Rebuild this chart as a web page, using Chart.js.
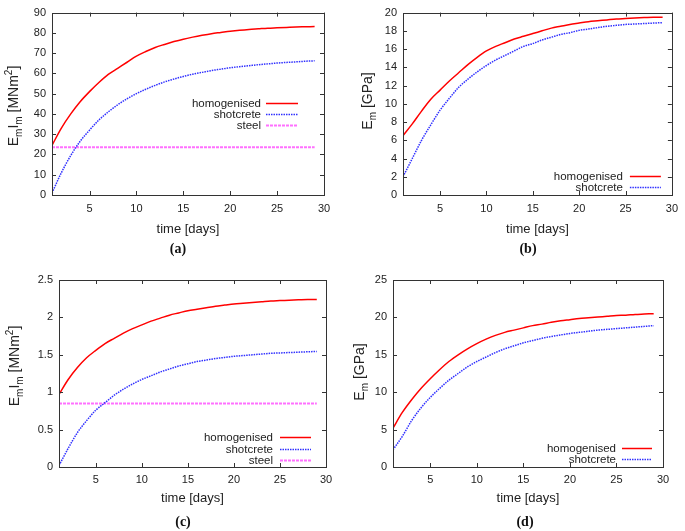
<!DOCTYPE html>
<html>
<head>
<meta charset="utf-8">
<script src="https://cdn.jsdelivr.net/npm/chart.js@4.4.1/dist/chart.umd.min.js"></script>
<style>
  body { margin: 0; background: #fff; width: 685px; height: 531px; position: relative; overflow: hidden; font-family: "Liberation Sans", Arial, sans-serif; }
  canvas { position: absolute; }
  .ytitle { position: absolute; transform: translate(-50%, -50%) rotate(-90deg); white-space: nowrap; font-size: 14px; color: #222; line-height: 1; }
  .ytitle sub, .ytitle sup { font-size: 10px; }
  .tag { position: absolute; transform: translate(-50%, -50%); font-family: "Liberation Serif", serif; font-weight: bold; font-size: 14px; color: #111; }
</style>
</head>
<body>
<canvas id="chartA" width="340" height="265" style="left:0;top:0"></canvas>
<canvas id="chartB" width="345" height="265" style="left:340px;top:0"></canvas>
<canvas id="chartC" width="340" height="266" style="left:0;top:265px"></canvas>
<canvas id="chartD" width="345" height="266" style="left:340px;top:265px"></canvas>

<div class="ytitle" style="left:14px;top:106px">E<sub>m</sub>I<sub>m</sub> [MNm<sup>2</sup>]</div>
<div class="ytitle" style="left:369px;top:101px">E<sub>m</sub> [GPa]</div>
<div class="ytitle" style="left:15px;top:366px">E<sub>m</sub>I<sub>m</sub> [MNm<sup>2</sup>]</div>
<div class="ytitle" style="left:361px;top:372px">E<sub>m</sub> [GPa]</div>

<div class="tag" style="left:178px;top:249px">(a)</div>
<div class="tag" style="left:528px;top:249px">(b)</div>
<div class="tag" style="left:183px;top:522px">(c)</div>
<div class="tag" style="left:525px;top:522px">(d)</div>

<script>
// time axis (days)
const days = [1, 2, 3, 4, 5, 6, 7, 8, 9, 10, 11, 12, 13, 14, 15, 16, 17, 18, 19, 20, 21, 22, 23, 24, 25, 26, 27, 28, 29];
const xTicks = [5, 10, 15, 20, 25, 30];

// (a) bending stiffness
const homogA = [24.5, 33, 40, 46, 51, 55.5, 59.5, 62.5, 65.5, 68.5, 70.8, 72.8, 74.3, 75.7, 76.9, 77.9, 78.8, 79.6, 80.2, 80.8, 81.3, 81.7, 82.0, 82.3, 82.5, 82.7, 82.9, 83.0, 83.1];
const shotA = [1, 11, 19.5, 26.5, 32, 37, 41, 44.5, 47.5, 50, 52.2, 54.1, 55.8, 57.2, 58.5, 59.6, 60.5, 61.4, 62.1, 62.8, 63.3, 63.8, 64.3, 64.7, 65.1, 65.4, 65.7, 66.0, 66.2];
const steelA = 23.5;
const yTicksA = [0, 10, 20, 30, 40, 50, 60, 70, 80, 90];

// (b) Young's modulus
const homogB = [6.5, 7.8, 9.2, 10.5, 11.5, 12.5, 13.4, 14.3, 15.1, 15.8, 16.3, 16.7, 17.1, 17.4, 17.7, 18.0, 18.3, 18.5, 18.7, 18.85, 19.0, 19.1, 19.2, 19.3, 19.35, 19.4, 19.45, 19.5, 19.5];
const shotB = [2.0, 4.0, 6.0, 7.7, 9.3, 10.6, 11.8, 12.7, 13.5, 14.2, 14.8, 15.3, 15.8, 16.3, 16.6, 17.0, 17.3, 17.6, 17.8, 18.05, 18.2, 18.35, 18.5, 18.6, 18.7, 18.75, 18.8, 18.85, 18.9];
const yTicksB = [0, 2, 4, 6, 8, 10, 12, 14, 16, 18, 20];

// (c) bending stiffness
const homogC = [0.97, 1.17, 1.33, 1.46, 1.56, 1.65, 1.72, 1.79, 1.85, 1.9, 1.95, 1.99, 2.03, 2.06, 2.09, 2.11, 2.13, 2.15, 2.165, 2.18, 2.19, 2.2, 2.21, 2.22, 2.225, 2.23, 2.235, 2.24, 2.24];
const shotC = [0.02, 0.25, 0.46, 0.62, 0.76, 0.86, 0.96, 1.04, 1.11, 1.17, 1.22, 1.27, 1.31, 1.35, 1.38, 1.41, 1.43, 1.45, 1.465, 1.48, 1.49, 1.5, 1.51, 1.52, 1.525, 1.53, 1.535, 1.54, 1.545];
const steelC = 0.85;
const yTicksC = [0, 0.5, 1, 1.5, 2, 2.5];

// (d) Young's modulus
const homogD = [5.2, 7.3, 9.0, 10.5, 11.8, 13.0, 14.1, 15.0, 15.8, 16.5, 17.1, 17.6, 18.0, 18.3, 18.6, 18.9, 19.1, 19.35, 19.55, 19.7, 19.85, 19.95, 20.05, 20.15, 20.25, 20.3, 20.4, 20.45, 20.5];
const shotD = [2.3, 4.1, 6.2, 7.9, 9.3, 10.5, 11.6, 12.5, 13.4, 14.1, 14.7, 15.3, 15.8, 16.2, 16.6, 16.9, 17.2, 17.45, 17.65, 17.85, 18.0, 18.15, 18.3, 18.4, 18.5, 18.6, 18.7, 18.8, 18.9];
const yTicksD = [0, 5, 10, 15, 20, 25];

const seriesNames = ['homogenised', 'shotcrete', 'steel'];

const FONT = '"Liberation Sans", Arial, sans-serif';
const TEXT = '#222';

// gnuplot-like frame with inward ticks + legend without box
const framePlugin = {
  id: 'frame',
  afterDatasetsDraw(chart, args, opts) {
    const ctx = chart.ctx;
    const a = chart.chartArea;
    const xs = chart.scales.x, ys = chart.scales.y;
    ctx.save();
    ctx.strokeStyle = '#333';
    ctx.lineWidth = 1;
    ctx.strokeRect(Math.round(a.left) + 0.5, Math.round(a.top) + 0.5, Math.round(a.right - a.left), Math.round(a.bottom - a.top));
    ctx.beginPath();
    xs.ticks.forEach(function(t) {
      const px = Math.round(xs.getPixelForValue(t.value)) + 0.5;
      ctx.moveTo(px, a.bottom); ctx.lineTo(px, a.bottom - 4);
      ctx.moveTo(px, a.top); ctx.lineTo(px, a.top + 4);
    });
    ys.ticks.forEach(function(t) {
      const py = Math.round(ys.getPixelForValue(t.value)) + 0.5;
      ctx.moveTo(a.left, py); ctx.lineTo(a.left + 4, py);
      ctx.moveTo(a.right, py); ctx.lineTo(a.right - 4, py);
    });
    ctx.stroke();

    // legend
    const L = opts.legend;
    ctx.font = '11.5px ' + FONT;
    ctx.textAlign = 'right';
    ctx.textBaseline = 'middle';
    chart.data.datasets.forEach(function(ds, i) {
      const y = Math.round((L.fromBottom ? a.bottom - L.y0 : a.top + L.y0) + i * L.dy) + 0.5;
      ctx.fillStyle = TEXT;
      ctx.fillText(ds.label, a.right - L.textRight, y);
      ctx.strokeStyle = ds.borderColor;
      ctx.lineWidth = ds.borderWidth;
      ctx.setLineDash(ds.borderDash || []);
      ctx.beginPath();
      ctx.moveTo(a.right - L.x0, y);
      ctx.lineTo(a.right - L.x1, y);
      ctx.stroke();
    });
    ctx.restore();
  }
};

function makePanel(id, p) {
  const datasets = [
    { label: seriesNames[0], data: days.map(function(d, i) { return { x: d, y: p.homog[i] }; }),
      borderColor: '#ff0000', borderWidth: 1.5 },
    { label: seriesNames[1], data: days.map(function(d, i) { return { x: d, y: p.shot[i] }; }),
      borderColor: '#3030ff', borderWidth: 1.5, borderDash: [1.5, 1] }
  ];
  if (p.steel !== undefined) {
    datasets.push({ label: seriesNames[2], data: days.map(function(d) { return { x: d, y: p.steel }; }),
      borderColor: '#ff70ff', borderWidth: 2, borderDash: [3, 1] });
  }
  datasets.forEach(function(ds) {
    ds.pointRadius = 0;
    ds.fill = false;
    ds.cubicInterpolationMode = 'monotone';
  });

  new Chart(document.getElementById(id), {
    type: 'line',
    data: { datasets: datasets },
    options: {
      responsive: false,
      animation: false,
      layout: { padding: { left: 0, top: p.padTop, right: p.padRight, bottom: 0 } },
      plugins: {
        legend: { display: false },
        tooltip: { enabled: false },
        frame: { legend: p.legend }
      },
      scales: {
        x: {
          type: 'linear',
          min: 1, max: 30,
          grid: { display: false, drawTicks: false },
          border: { display: false },
          afterBuildTicks: function(s) { s.ticks = xTicks.map(function(v) { return { value: v }; }); },
          afterFit: function(s) { s.height = p.xHeight; },
          ticks: { padding: p.xTickPad, color: TEXT, font: { family: FONT, size: 11 }, maxRotation: 0,
            callback: function(v) { return String(v); } },
          title: { display: true, text: 'time [days]', color: TEXT, font: { family: FONT, size: 13 },
            padding: { top: 0, bottom: p.titlePad } }
        },
        y: {
          type: 'linear',
          min: p.yTicks[0], max: p.yTicks[p.yTicks.length - 1],
          grid: { display: false, drawTicks: false },
          border: { display: false },
          afterBuildTicks: function(s) { s.ticks = p.yTicks.map(function(v) { return { value: v }; }); },
          afterFit: function(s) { s.width = p.yWidth; },
          ticks: { padding: 6, color: TEXT, font: { family: FONT, size: 11 },
            callback: function(v) { return String(v); } }
        }
      }
    },
    plugins: [framePlugin]
  });
}

makePanel('chartA', { homog: homogA, shot: shotA, steel: steelA, yTicks: yTicksA,
  padTop: 7, padRight: 16, yWidth: 52, xHeight: 70, xTickPad: 7, titlePad: 28,
  legend: { fromBottom: false, y0: 90, dy: 11, textRight: 63, x0: 58, x1: 26 } });

makePanel('chartB', { homog: homogB, shot: shotB, yTicks: yTicksB,
  padTop: 7, padRight: 11, yWidth: 63, xHeight: 70, xTickPad: 7, titlePad: 28,
  legend: { fromBottom: true, y0: 19, dy: 11, textRight: 49, x0: 42, x1: 11 } });

makePanel('chartC', { homog: homogC, shot: shotC, steel: steelC, yTicks: yTicksC,
  padTop: 15, padRight: 14, yWidth: 59, xHeight: 64, xTickPad: 6, titlePad: 25,
  legend: { fromBottom: true, y0: 30, dy: 11.5, textRight: 53, x0: 46, x1: 15 } });

makePanel('chartD', { homog: homogD, shot: shotD, yTicks: yTicksD,
  padTop: 15, padRight: 22, yWidth: 53, xHeight: 64, xTickPad: 6, titlePad: 25,
  legend: { fromBottom: true, y0: 19, dy: 11, textRight: 47, x0: 41, x1: 11 } });
</script>
</body>
</html>
